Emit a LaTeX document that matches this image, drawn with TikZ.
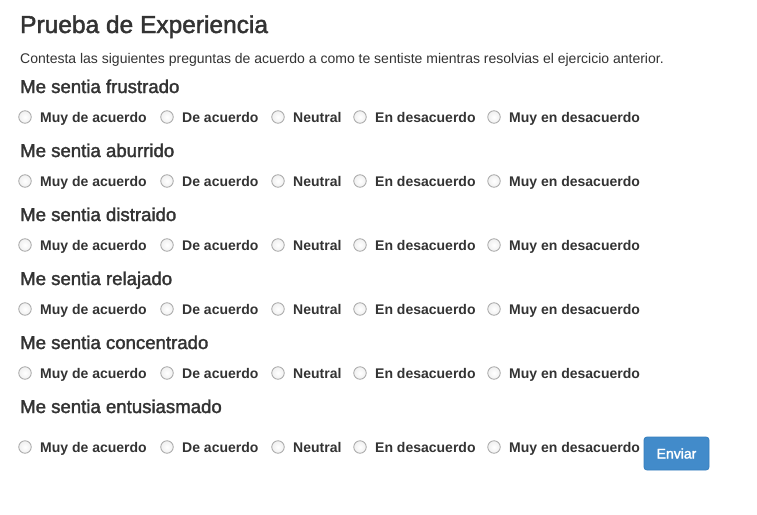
\documentclass[tikz,border=0pt]{standalone}
\usepackage{fontspec}
\setmainfont{Liberation Sans}
\newfontfamily\medfont[RawFeature={embolden=1.8}]{Liberation Sans}
\begin{document}
\begin{tikzpicture}[x=1pt,y=-1pt,
  txt/.style={anchor=base west,inner sep=0pt,text=textgray},
  title/.style={txt,font=\medfont\fontsize{24.5}{28}\selectfont},
  intro/.style={txt,font=\fontsize{14}{16}\selectfont},
  heading/.style={txt,font=\medfont\fontsize{18.6}{20}\selectfont},
  opt/.style={txt,font=\bfseries\fontsize{14}{16}\selectfont},
  radio/.style={circle,draw=radiogray,line width=0.8pt,inner color=white,outer color=radiofill,minimum size=12.5pt,inner sep=0pt},
  btn/.style={fill=btnblue,draw=btnborder,line width=0.8pt,rounded corners=3pt,minimum width=65pt,minimum height=33pt,inner sep=0pt,text=white,font=\medfont\fontsize{14}{16}\selectfont}
]
\definecolor{textgray}{HTML}{333333}
\definecolor{radiogray}{HTML}{A8A8A8}
\definecolor{radiofill}{HTML}{F0F0F0}
\definecolor{btnblue}{HTML}{428BCA}
\definecolor{btnborder}{HTML}{357EBD}
\useasboundingbox (0,0) rectangle (757,514);
\fill[white] (0,0) rectangle (757,514);
\node[title] (t) at (20,33) {Prueba de Experiencia};
\node[intro] (intro) at (20,63) {Contesta las siguientes preguntas de acuerdo a como te sentiste mientras resolvias el ejercicio anterior.};
\foreach \i/\h/\hy/\ry in {1/frustrado/93/122, 2/aburrido/157/186, 3/distraido/221/250, 4/relajado/285/314, 5/concentrado/349/378, 6/entusiasmado/413/452}{
  \node[heading] (h\i) at (20,\hy) {Me sentia \h};
  \foreach \j/\cx/\lab in {1/25/Muy de acuerdo, 2/167/De acuerdo, 3/278/Neutral, 4/360/En desacuerdo, 5/494/Muy en desacuerdo}{
    \node[radio] (r\i\j) at (\cx,\ry-5) {};
    \node[opt] (l\i\j) at (\cx+15,\ry) {\lab};
  }
}
\node[btn] (send) at (676.5,453.5) {Enviar};
\end{tikzpicture}
\end{document}
